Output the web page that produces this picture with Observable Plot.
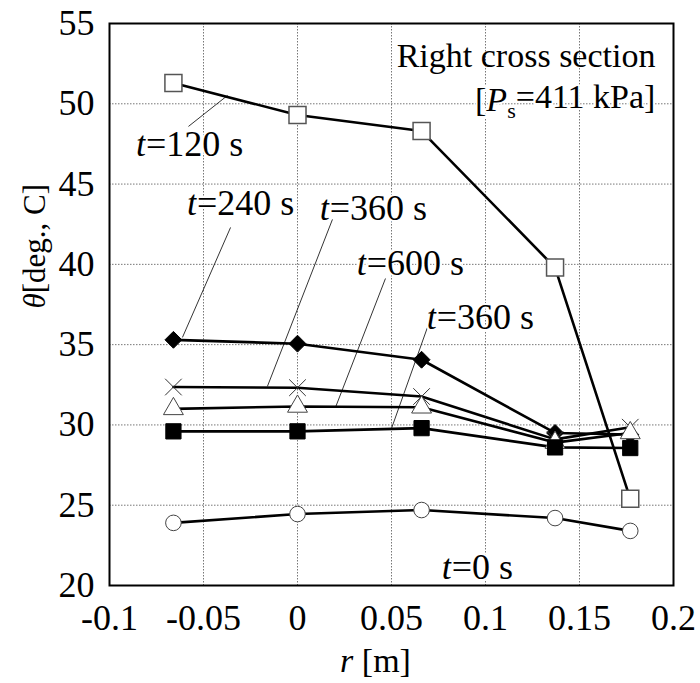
<!DOCTYPE html>
<html><head><meta charset="utf-8">
<script src="https://cdn.jsdelivr.net/npm/d3@7"></script>
<script src="https://cdn.jsdelivr.net/npm/@observablehq/plot@0.6"></script>
<style>body{margin:0;background:#fff} svg text{font-family:'Liberation Serif','Times New Roman',serif;}</style>
</head><body><div id="chart"></div>
<script>
// radial position r [m]
const rPos = [-0.066, 0, 0.066, 0.137, 0.177];
// temperatures θ [deg. C]
const t0   = [23.9, 24.45, 24.7, 24.2, 23.4];
const t120 = [51.3, 49.3, 48.3, 39.8, 25.4];
const t240 = [35.3, 35.06, 34.06, 29.5, 29.4];
const t360 = [32.36, 32.32, 31.77, 29.1, 29.86];
const t600 = [31.0, 31.15, 31.1, 28.9, 29.5];
const t360b = [29.6, 29.6, 29.8, 28.6, 28.56];

const xTicks = [-0.1, -0.05, 0, 0.05, 0.1, 0.15, 0.2];
const yTicks = [20, 25, 30, 35, 40, 45, 50, 55];

// annotation labels and leader lines (data coordinates)
const labelText = ["t=120 s", "t=240 s", "t=360 s", "t=600 s", "t=360 s", "t=0 s"];
const labelX = [-0.0574, -0.0303, 0.0404, 0.060, 0.0973, 0.0957];
const labelY = [47.47, 43.8, 43.48, 40.06, 36.7, 21.13];
const leadX1 = [-0.058, -0.0356, 0.0186, 0.0468, 0.0691];
const leadY1 = [48.59, 42.30, 42.80, 39.12, 36.07];
const leadX2 = [-0.0372, -0.0612, -0.016, 0.0202, 0.050];
const leadY2 = [50.52, 35.45, 32.40, 31.09, 29.78];

const series = [
  {name: "t0",   values: t0,   symbol: "circle",   fill: "white", stroke: "#444", r: 7.8, sw: 1},
  {name: "t120", values: t120, symbol: "square",   fill: "white", stroke: "#555", r: 9.6, sw: 1.5},
  {name: "t240", values: t240, symbol: "diamond2", fill: "black", stroke: "black", r: 7.6, sw: 1},
  {name: "t360", values: t360, symbol: "times",    fill: "none",  stroke: "#333", r: 7.6, sw: 1},
  {name: "t600", values: t600, symbol: "triangle", fill: "white", stroke: "#444", r: 7.4, sw: 1},
  {name: "t360b", values: t360b, symbol: "square", fill: "black", stroke: "black", r: 8.6, sw: 1}
];
const rows = series.flatMap(s => s.values.map((v, i) => ({series: s.name, r: rPos[i], theta: v})));
const labels = labelText.map((t, i) => ({t, x: labelX[i], y: labelY[i]}));
const leaders = leadX1.map((x1, i) => ({x1, y1: leadY1[i], x2: leadX2[i], y2: leadY2[i]}));

const chart = Plot.plot({
  width: 700,
  height: 683,
  marginLeft: 109,
  marginRight: 27,
  marginTop: 23,
  marginBottom: 98,
  style: {fontFamily: "'Liberation Serif', 'Times New Roman', serif", fontSize: "36px", background: "white", color: "black"},
  x: {domain: [-0.1, 0.2]},
  y: {domain: [20, 55]},
  marks: [
    Plot.gridX(xTicks, {stroke: "#777", strokeOpacity: 1, strokeDasharray: "1.5,1.5", strokeWidth: 1}),
    Plot.gridY(yTicks, {stroke: "#777", strokeOpacity: 1, strokeDasharray: "1.5,1.5", strokeWidth: 1}),
    Plot.axisX(xTicks, {tickSize: 0, tickPadding: 19, tickFormat: d => String(d), label: null, fontSize: 36, className: "xax"}),
    Plot.axisY(yTicks, {tickSize: 0, tickPadding: 15, tickFormat: d => String(d), label: null, fontSize: 36, className: "yax"}),
    Plot.link(leaders, {x1: "x1", y1: "y1", x2: "x2", y2: "y2", stroke: "black", strokeWidth: 0.8}),
    Plot.text(labels, {x: "x", y: "y", text: "t", fontSize: 36, fill: "black", stroke: "white", strokeWidth: 4, paintOrder: "stroke", className: "tlab"}),
    ...series.map(s => Plot.line(rows.filter(d => d.series === s.name), {x: "r", y: "theta", stroke: "black", strokeWidth: 2.6})),
    ...series.map(s => Plot.dot(rows.filter(d => d.series === s.name), {x: "r", y: "theta", symbol: () => s.symbol, r: s.r, fill: s.fill, stroke: s.stroke, strokeWidth: s.sw})),
    Plot.text(["Right cross section"], {x: 0.1904, y: 52.95, text: d => d, textAnchor: "end", fontSize: 34, fill: "black"}),
    Plot.text(["[Ps=411 kPa]"], {x: 0.1904, y: 50.2, text: d => d, textAnchor: "end", fontSize: 34, fill: "black", stroke: "white", strokeWidth: 4, paintOrder: "stroke", className: "plab"}),
    Plot.text(["θ"], {frameAnchor: "left", dx: -74, dy: 4, rotate: -90, text: d => d, fontSize: 31, fill: "black", className: "ylab"}),
    Plot.text(["r"], {frameAnchor: "bottom", dx: -16, dy: 86, text: d => d, fontSize: 34, fill: "black", className: "xlab"}),
    Plot.frame({stroke: "black", strokeWidth: 2})
  ]
});
document.getElementById("chart").appendChild(chart);

const svg = d3.select(chart);
svg.selectAll(".xax, .yax").attr("font-size", 36).style("font-size", "36px");
svg.selectAll(".xax text, .yax text").style("font-size", "36px");
svg.selectAll(".tlab text").each(function () {
  const s = this.textContent;
  const el = d3.select(this);
  el.text(null);
  el.append("tspan").attr("font-style", "italic").text("t");
  el.append("tspan").text(s.slice(1));
});
svg.selectAll(".plab text").each(function () {
  const el = d3.select(this);
  el.text(null);
  el.append("tspan").text("[");
  el.append("tspan").attr("font-style", "italic").text("P");
  el.append("tspan").attr("font-size", "22px").attr("dy", "0.3em").text("s");
  el.append("tspan").attr("dy", "-0.3em").text("=411 kPa]");
});
svg.selectAll(".ylab text").each(function () {
  const el = d3.select(this);
  el.text(null);
  el.append("tspan").attr("font-style", "italic").text("θ");
  el.append("tspan").text("[deg., C]");
});
svg.selectAll(".xlab text").each(function () {
  const el = d3.select(this);
  el.text(null);
  el.append("tspan").attr("font-style", "italic").text("r");
  el.append("tspan").text(" [m]");
});
</script>
</body></html>
